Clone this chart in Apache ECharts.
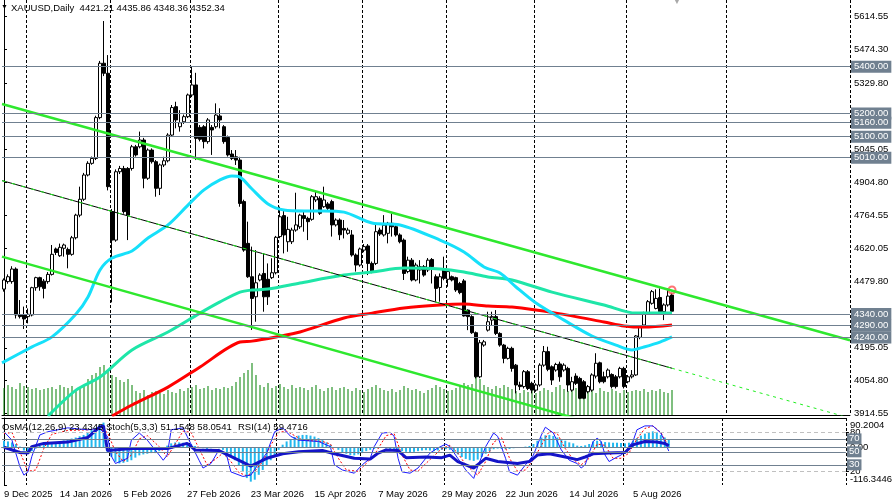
<!DOCTYPE html>
<html>
<head>
<meta charset="utf-8">
<title>XAUUSD Daily</title>
<script src="https://cdn.jsdelivr.net/npm/echarts@6/dist/echarts.min.js"></script>
<style>
  html, body { margin: 0; padding: 0; background: #fff; }
  #chart { width: 895px; height: 501px; }
</style>
</head>
<body>
<div id="chart"></div>
<script>
// daily bars, MT4 order: [open, high, low, close]
var bars = [
  [4447,4493,4436,4486],[4479,4510,4470,4500],[4479,4545,4470,4533],[4533,4540,4321,4336],
  [4336,4400,4321,4329],[4336,4372,4276,4319],[4329,4364,4300,4339],[4336,4457,4330,4453],
  [4453,4500,4440,4496],[4496,4500,4440,4457],[4481,4490,4407,4450],[4479,4520,4470,4510],
  [4510,4636,4505,4596],[4619,4625,4593,4604],[4590,4642,4585,4626],[4622,4642,4586,4636],
  [4617,4625,4536,4596],[4596,4675,4590,4667],[4667,4770,4660,4764],[4764,4886,4755,4832],
  [4832,4945,4825,4936],[4936,4995,4930,4986],[4986,5015,4980,5007],[5007,5190,5000,5182],
  [5182,5425,5175,5415],[5415,5596,5360,5372],[5372,5450,4870,4886],[4779,4790,4390,4657],
  [4657,4960,4650,4950],[4950,4975,4940,4964],[4964,4975,4770,4779],[4964,4970,4657,4764],
  [4964,5065,4955,5057],[5057,5065,5015,5022],[5057,5122,5050,5086],[5086,5095,4879,4922],
  [4922,5050,4915,5043],[5043,5050,4985,4993],[4993,5000,4843,4879],[4879,4985,4850,4979],
  [4979,5014,4970,4997],[4997,5115,4990,5107],[5107,5236,5100,5225],[5229,5250,5136,5172],
  [5143,5214,5122,5160],[5164,5195,5155,5186],[5186,5285,5180,5279],[5279,5400,5270,5322],
  [5322,5374,5000,5093],[5140,5150,5080,5089],[5143,5150,5050,5079],[5079,5180,5070,5172],
  [5140,5150,5022,5129],[5143,5243,5135,5193],[5189,5222,5136,5172],[5143,5150,5070,5079],
  [5097,5105,5015,5022],[5026,5043,5000,5007],[5014,5043,4979,5000],[5000,5014,4800,4814],
  [4822,4830,4607,4614],[4643,4736,4495,4500],[4500,4629,4272,4407],[4414,4614,4307,4474],
  [4486,4515,4480,4507],[4514,4600,4350,4414],[4489,4557,4379,4414],[4496,4579,4490,4517],
  [4517,4675,4510,4669],[4672,4800,4665,4757],[4762,4786,4600,4679],[4650,4757,4607,4703],
  [4650,4710,4640,4700],[4700,4860,4693,4722],[4714,4770,4705,4764],[4762,4786,4693,4750],
  [4750,4757,4657,4736],[4746,4850,4740,4843],[4829,4865,4820,4843],[4836,4845,4765,4772],
  [4800,4886,4795,4829],[4812,4820,4785,4793],[4822,4830,4672,4722],[4722,4750,4715,4743],
  [4743,4750,4657,4680],[4707,4743,4664,4700],[4686,4710,4680,4700],[4679,4700,4586,4593],
  [4593,4600,4522,4550],[4550,4625,4543,4619],[4614,4640,4605,4629],[4632,4640,4507,4557],
  [4557,4565,4515,4522],[4557,4729,4550,4693],[4700,4710,4675,4683],[4679,4764,4672,4721],
  [4686,4735,4643,4729],[4729,4771,4672,4714],[4714,4720,4672,4679],[4679,4686,4643,4650],
  [4657,4664,4486,4514],[4522,4586,4515,4571],[4571,4580,4480,4486],[4486,4560,4480,4550],
  [4529,4571,4471,4543],[4543,4550,4500,4507],[4529,4580,4520,4571],[4574,4580,4471,4543],
  [4500,4510,4393,4450],[4454,4514,4393,4500],[4532,4586,4485,4493],[4489,4530,4457,4522],
  [4500,4505,4480,4486],[4496,4500,4435,4443],[4471,4478,4425,4432],[4482,4490,4329,4332],
  [4357,4360,4271,4329],[4329,4335,4255,4260],[4260,4265,4064,4071],[4071,4229,4065,4217],
  [4207,4229,4200,4221],[4271,4350,4265,4307],[4314,4350,4293,4329],[4329,4357,4250,4257],
  [4257,4262,4200,4207],[4207,4212,4129,4150],[4150,4200,4145,4193],[4193,4200,4093,4107],
  [4121,4126,4000,4036],[4036,4050,4014,4029],[4029,4100,4021,4093],[4093,4100,4014,4021],
  [4043,4050,4000,4014],[4014,4043,4007,4036],[4036,4129,4029,4121],[4121,4203,4114,4179],
  [4179,4200,4095,4103],[4114,4120,4036,4057],[4100,4131,4093,4124],[4126,4136,4050,4071],
  [4100,4129,4093,4121],[4107,4114,4007,4036],[4014,4071,4007,4050],[4074,4086,4036,4043],
  [4064,4071,3975,3979],[4050,4057,3975,3979],[4007,4036,4000,4029],[4014,4086,4007,4079],
  [4074,4172,4064,4129],[4131,4136,4043,4050],[4071,4093,4043,4050],[4071,4107,4064,4100],
  [4081,4086,4021,4029],[4071,4079,4021,4029],[4071,4114,4064,4107],[4107,4114,4021,4029],
  [4050,4079,4043,4071],[4071,4100,4064,4079],[4079,4250,4075,4246],[4240,4290,4232,4286],
  [4293,4350,4286,4343],[4343,4400,4336,4393],[4386,4443,4380,4436],[4364,4446,4360,4407],
  [4411,4450,4343,4350],[4350,4386,4314,4379],[4379,4450,4372,4417],[4421.21,4435.86,4348.36,4352.34]
];

// tick volume, thousands
var volumes = [
  27,30,28,26,32,29,28,26,27,25,26, 27,28,26,30,28,27,29,26,28,30, 36,40,42,48,50,45,40,
  38,35,33,36,30, 24,22,25,20,23,24,22,21,25,23,22,26,24,27, 28,30,26,27,29,25,27,26,28,27,29,
  33,38,42,45,52,40, 30,28,32,27,29,31,28,26,30,27,28, 27,25,28,30,26,24,27,28,25,27,
  28,26,24,27,25,23,26,28,30,27,25,24,26,23,25,29, 27,25,26,24,22,25,27,30,28,26,24,25,27,29,32,30,31,
  40,36,30,28,26,29,27,30,28,26, 24,22,25,23,26,22,24,27,25,23,28,30,26,
  24,25,27,23,26,24,25,22,27,24,23,26,24,22,25,23,24, 25,24,26,23,25,24,26,23,22,25
];

var osma = [
  20,18,15,10,2,-10,-18,-12,-4,4,8,12,
  14,16,18,21,25,27,30,34,38,44,53,60,69,76,
  -14,-30,-45,-50,-48,-45,-40,-32,-25,-22,-20,-18,-18,-12,-5,
  5,12,15,15,14,12,10,4,0,-3,-5,-3,-2,-3,
  -8,-15,-25,-40,-55,-75,-95,-106,-100,-85,-70,-55,-40,-25,-8,
  8,18,25,32,36,38,38,36,33,28,22,15,8,0,
  -8,-15,-20,-24,-25,-22,-18,-12,-8,-5,-3,-2,-4,-6,-8,-10,
  -12,-14,-15,-14,-12,-10,-9,-10,-12,-10,-8,-6,-8,
  -15,-22,-30,-36,-40,-42,-38,-30,-20,-12,-6,-4,-5,-6,-5,-3,-2,
  0,2,4,10,20,30,37,38,35,30,25,20,15,12,
  5,4,6,10,18,20,18,16,15,14,14,13,
  12,14,20,28,36,42,47,49,46,38,30,23.4345
];

// [bar index, value]
var stochMain = [
  [0,81],[2,68],[4,27],[5,14],[6,19],[7,43],[9,76],[11,81],[16,87],[21,84],[24,86],[26,74],[27,43],
  [28,32],[31,40],[32,68],[34,79],[36,68],[39,45],[40,37],[41,45],[42,84],[45,87],[46,74],[49,37],
  [50,25],[52,32],[54,53],[56,43],[57,19],[60,12],[62,14],[64,32],[66,48],[68,81],[70,87],[72,74],
  [74,68],[79,66],[82,58],[83,30],[85,22],[88,17],[90,30],[92,40],[93,58],[95,79],[97,80],[98,74],
  [99,40],[100,19],[102,17],[104,25],[107,48],[109,56],[111,62],[112,58],[114,40],[116,22],[118,9],
  [119,27],[121,58],[123,79],[124,74],[126,40],[127,19],[129,14],[131,30],[133,45],[135,76],[136,88],
  [138,79],[140,53],[142,37],[144,32],[145,25],[146,30],[148,66],[149,71],[150,66],[151,45],[152,35],
  [154,42],[155,45],[156,50],[158,66],[159,84],[161,90],[163,90],[165,79],[166,66],[167,51.1548]
];
var stochSignal = [
  [0,78],[2,80],[4,50],[6,20],[8,22],[10,55],[12,77],[16,83],[21,84],[24,85],[26,80],[28,50],[30,35],
  [32,45],[34,70],[36,75],[39,58],[41,42],[43,62],[45,82],[47,80],[49,55],[51,30],[53,38],[55,48],
  [57,35],[59,18],[61,13],[63,20],[65,35],[67,60],[69,80],[71,82],[73,75],[75,68],[80,66],[82,62],
  [84,40],[86,22],[89,20],[91,32],[93,45],[96,75],[98,78],[100,45],[102,22],[104,20],[107,38],[110,55],
  [112,60],[114,48],[116,30],[119,14],[121,35],[123,65],[125,72],[127,40],[129,20],[131,22],[133,38],
  [135,60],[137,82],[139,78],[141,55],[143,38],[145,30],[147,40],[149,62],[151,60],[153,40],[155,40],
  [157,48],[159,70],[161,86],[163,90],[165,80],[167,58.0541]
];
var rsi = [
  [0,57],[4,49],[6,48],[7,58],[10,63],[16,65],[21,72],[24,88],[25,90],[26,52],[32,55],[41,55],[46,63],
  [48,53],[54,52],[57,43],[62,28],[66,40],[70,47],[74,50],[80,52],[83,47],[88,40],[92,39],[94,48],
  [96,53],[99,52],[101,41],[106,42],[110,41],[112,45],[114,35],[118,25],[121,40],[124,35],[129,32],
  [132,35],[134,45],[137,47],[141,42],[144,38],[146,42],[148,47],[152,48],[156,49],[158,61],[161,66],
  [164,65],[166,63],[167,59.4716]
];

var maFast = [
  [-0.5,4131],[7,4199],[12,4242],[18,4340],[21,4413],[24,4529],[27,4580],[32,4610],[36,4666],
  [41,4722],[46,4807],[50,4872],[54,4915],[57,4932],[59,4927],[62,4876],[66,4812],[70,4786],
  [75,4782],[80,4782],[85,4777],[92,4730],[99,4722],[109,4657],[115,4606],[120,4542],[124,4516],
  [128,4456],[133,4387],[140,4314],[147,4246],[153,4207],[157,4186],[160,4199],[164,4220],[167,4242]
];
var maMid = [
  [11,3903],[18,4014],[24,4070],[32,4186],[41,4263],[49,4344],[54,4392],[59,4434],[62,4443],
  [66,4447],[74,4473],[85,4507],[92,4520],[100,4537],[109,4533],[115,4520],[121,4499],[127,4486],
  [137,4434],[150,4379],[158,4344],[167,4344]
];
var maSlow = [
  [27,3903],[32,3950],[41,4027],[49,4113],[59,4220],[62,4224],[68,4242],[74,4263],[85,4323],
  [92,4344],[100,4366],[109,4379],[115,4383],[121,4374],[127,4370],[138,4344],[150,4306],
  [155,4289],[160,4284],[167,4293]
];

// channel trend lines, [bar index, price]
var trendUpper = [[-0.5,5240.2],[211.5,4227.8]];
var trendLower = [[-0.5,4586.1],[211.5,3561.3]];
var trendMid = [[-0.5,4911.9],[167,4107.7]];
var trendMidRay = [[167,4107.7],[211.5,3894.3]];
var alertPoint = [[167,4443]];

var levels = [5400, 5200, 5160, 5100, 5010, 4340, 4290, 4240];
var priceTicks = [5614.55, 5474.30, 5329.80, 5045.05, 4904.80, 4764.55, 4620.05, 4479.80, 4195.05, 4054.80, 3914.55];
var oscLevels = [70, 50, 30];
var stochLevels = [80, 20];
var osmaTicks = [90.2004, 0, -116.3446];

var xTickIdx = [0, 14, 30, 46, 62, 78, 94, 110, 126, 142, 158];
var xTickText = ['9 Dec 2025', '14 Jan 2026', '5 Feb 2026', '27 Feb 2026', '23 Mar 2026', '15 Apr 2026',
  '7 May 2026', '29 May 2026', '22 Jun 2026', '14 Jul 2026', '5 Aug 2026'];
var gridIdx = [6, 27, 47, 69, 90, 111, 133, 156, 181];

// trading days for the axis (weekends and a few holidays skipped)
var holidays = ['2025-12-25', '2026-01-01', '2026-04-03'];
var dates = [];
var d = new Date(Date.UTC(2025, 11, 23));
while (dates.length < 212) {
  var s = d.toISOString().slice(0, 10);
  var wd = d.getUTCDay();
  if (wd !== 0 && wd !== 6 && holidays.indexOf(s) < 0) dates.push(s.replace(/-/g, '.'));
  d.setUTCDate(d.getUTCDate() + 1);
}

var FONT = '"Liberation Sans", Arial, sans-serif';
var FS = 9.5;
var last = bars[bars.length - 1];
var bid = last[3];

var myChart = echarts.init(document.getElementById('chart'));

var gridLine = {
  show: true,
  interval: function (i) { return gridIdx.indexOf(i) >= 0; },
  lineStyle: { color: '#000', width: 1, type: [3, 2] }
};

function txt(extra) {
  var t = { fontFamily: FONT, fontSize: FS, color: '#000', fontWeight: 'normal' };
  for (var k in extra) t[k] = extra[k];
  return t;
}

function levelLabel(bg) {
  return {
    show: true, position: 'end', distance: 1,
    backgroundColor: bg, color: '#fff', padding: [1, 3, 1, 3],
    fontFamily: FONT, fontSize: FS,
    formatter: function (p) { return p.value.toFixed(2); }
  };
}

myChart.setOption({
  animation: false,
  backgroundColor: '#fff',
  textStyle: { fontFamily: FONT, fontSize: FS, color: '#000' },
  title: [
    { text: '\u25BC', left: 1, top: 4, padding: 0, textStyle: txt({ fontSize: 7 }) },
    { text: 'XAUUSD,Daily  ' + last.map(function (v) { return v.toFixed(2); }).join(' '),
      left: 11, top: 3, padding: 0, textStyle: txt({}) },
    { text: '\u25BC', left: 673, top: -2, padding: 0, textStyle: txt({ fontSize: 8, color: '#a8a8a8' }) },
    { text: 'OsMA(12,26,9) ' + osma[osma.length - 1].toFixed(4), left: 2, top: 422, padding: 0, textStyle: txt({}) },
    { text: 'Stoch(5,3,3) ' + stochMain[stochMain.length - 1][1].toFixed(4) + ' ' + stochSignal[stochSignal.length - 1][1].toFixed(4),
      left: 106, top: 422, padding: 0, textStyle: txt({}) },
    { text: 'RSI(14) ' + rsi[rsi.length - 1][1].toFixed(4), left: 238, top: 422, padding: 0, textStyle: txt({}) }
  ],
  grid: [
    { left: 2, right: 45, top: 0, height: 415 },
    { left: 2, right: 45, top: 418, height: 67 }
  ],
  xAxis: [
    { type: 'category', gridIndex: 0, data: dates, boundaryGap: true,
      axisLine: { lineStyle: { color: '#000' } }, axisTick: { show: false }, axisLabel: { show: false },
      splitLine: gridLine },
    { type: 'value', gridIndex: 0, min: -0.5, max: 211.5, show: false },
    { type: 'category', gridIndex: 1, data: dates, boundaryGap: true, position: 'bottom',
      axisLine: { lineStyle: { color: '#000' } }, axisTick: { show: false },
      axisLabel: {
        interval: function (i) { return xTickIdx.indexOf(i) >= 0; },
        formatter: function (v, i) { var k = xTickIdx.indexOf(i); return k >= 0 ? xTickText[k] : ''; },
        showMinLabel: true,
        align: 'left', margin: 4, color: '#000', fontFamily: FONT, fontSize: FS
      },
      splitLine: gridLine },
    { type: 'value', gridIndex: 1, min: -0.5, max: 211.5, show: false },
    { type: 'category', gridIndex: 1, data: dates, position: 'top',
      axisLine: { lineStyle: { color: '#000' } }, axisTick: { show: false }, axisLabel: { show: false } }
  ],
  yAxis: [
    { type: 'value', gridIndex: 0, position: 'right', min: 3907.3, max: 5686.1, scale: true,
      axisLine: { show: true, lineStyle: { color: '#000' } },
      axisTick: { show: true, length: 3, customValues: priceTicks, lineStyle: { color: '#000' } },
      axisLabel: { customValues: priceTicks, margin: 4, color: '#000', fontFamily: FONT, fontSize: FS,
        formatter: function (v) { return v.toFixed(2); } },
      splitLine: { show: false } },
    { type: 'value', gridIndex: 0, min: 0, max: 415, show: false },
    { type: 'value', gridIndex: 1, position: 'right', min: -116.3446, max: 90.2004,
      axisLine: { show: true, lineStyle: { color: '#000' } },
      axisTick: { show: true, length: 3, customValues: osmaTicks, lineStyle: { color: '#000' } },
      axisLabel: { customValues: osmaTicks, margin: 4, color: '#000', fontFamily: FONT, fontSize: FS,
        formatter: function (v) {
          if (v > 50) return '{top|' + v.toFixed(4) + '}';
          if (v < -50) return '{bot|' + v.toFixed(4) + '}';
          return v.toFixed(2);
        },
        rich: {
          top: { padding: [14, 0, 0, 0], fontFamily: FONT, fontSize: FS, color: '#000' },
          bot: { padding: [0, 0, 12, 0], fontFamily: FONT, fontSize: FS, color: '#000' }
        } },
      splitLine: { show: false } },
    { type: 'value', gridIndex: 1, position: 'right', min: -1.2, max: 102.2,
      axisLine: { show: false },
      axisTick: { show: true, length: 3, customValues: stochLevels, lineStyle: { color: '#000' } },
      axisLabel: { customValues: stochLevels, margin: 4, color: '#000', fontFamily: FONT, fontSize: FS },
      splitLine: { show: false } }
  ],
  series: [
    { name: 'Volume', type: 'bar', xAxisIndex: 0, yAxisIndex: 1, data: volumes, barWidth: 1,
      itemStyle: { color: '#008000' }, silent: true,
      markLine: { silent: true, symbol: ['none', 'none'],
        lineStyle: { color: '#c0c0c0', width: 1, type: 'solid' },
        label: levelLabel('#000'),
        data: [{ yAxis: bid }] } },
    { name: 'XAUUSD', type: 'candlestick', xAxisIndex: 0, yAxisIndex: 0, barWidth: 3,
      data: bars.map(function (b) { return [b[0], b[3], b[2], b[1]]; }),
      itemStyle: { color: '#fff', color0: '#000', borderColor: '#000', borderColor0: '#000', borderWidth: 1 },
      markLine: { silent: true, symbol: ['none', 'none'],
        lineStyle: { color: '#708090', width: 1, type: 'solid' },
        label: levelLabel('#708090'),
        data: levels.map(function (v) { return { yAxis: v }; }) } },
    { name: 'MA 200', type: 'line', xAxisIndex: 1, yAxisIndex: 0, data: maSlow, smooth: 0.3,
      showSymbol: false, lineStyle: { color: '#ff0000', width: 3 } },
    { name: 'MA 100', type: 'line', xAxisIndex: 1, yAxisIndex: 0, data: maMid, smooth: 0.3,
      showSymbol: false, lineStyle: { color: '#1ee6a8', width: 3 } },
    { name: 'MA 50', type: 'line', xAxisIndex: 1, yAxisIndex: 0, data: maFast, smooth: 0.3,
      showSymbol: false, lineStyle: { color: '#16e0fa', width: 3 } },
    { name: 'Channel top', type: 'line', xAxisIndex: 1, yAxisIndex: 0, data: trendUpper,
      showSymbol: false, lineStyle: { color: '#2ee82e', width: 2.5 } },
    { name: 'Channel bottom', type: 'line', xAxisIndex: 1, yAxisIndex: 0, data: trendLower,
      showSymbol: false, lineStyle: { color: '#2ee82e', width: 2.5 } },
    { name: 'Channel mid', type: 'line', xAxisIndex: 1, yAxisIndex: 0, data: trendMid,
      showSymbol: false, lineStyle: { color: '#000', width: 1 } },
    { name: 'Channel mid dash', type: 'line', xAxisIndex: 1, yAxisIndex: 0, data: trendMid,
      showSymbol: false, lineStyle: { color: '#22ee22', width: 1, type: [4, 6] } },
    { name: 'Channel ray', type: 'line', xAxisIndex: 1, yAxisIndex: 0, data: trendMidRay,
      showSymbol: false, lineStyle: { color: '#22ee22', width: 1, type: [3, 4] } },
    { name: 'Alert', type: 'scatter', xAxisIndex: 1, yAxisIndex: 0, data: alertPoint,
      symbol: 'emptyCircle', symbolSize: 7, itemStyle: { color: '#ff5050', borderColor: '#ff5050', borderWidth: 1 } },

    { name: 'OsMA', type: 'bar', xAxisIndex: 2, yAxisIndex: 2, data: osma, barWidth: 2,
      itemStyle: { color: '#22b8ee' }, silent: true,
      markLine: { silent: true, symbol: ['none', 'none'], label: { show: false },
        lineStyle: { color: '#708090', width: 1, type: 'solid' }, data: [{ yAxis: 0 }] } },
    { name: 'Stoch signal', type: 'line', xAxisIndex: 3, yAxisIndex: 3, data: stochSignal,
      showSymbol: false, lineStyle: { color: '#ff0000', width: 1, type: [2, 2] },
      markLine: { silent: true, symbol: ['none', 'none'], label: { show: false },
        lineStyle: { color: '#c0c0c0', width: 1, type: [4, 3] },
        data: stochLevels.map(function (v) { return { yAxis: v }; }) } },
    { name: 'Stoch', type: 'line', xAxisIndex: 3, yAxisIndex: 3, data: stochMain,
      showSymbol: false, lineStyle: { color: '#1a1aff', width: 1 } },
    { name: 'RSI', type: 'line', xAxisIndex: 3, yAxisIndex: 3, data: rsi,
      showSymbol: false, lineStyle: { color: '#1414c8', width: 3 },
      markLine: { silent: true, symbol: ['none', 'none'],
        lineStyle: { color: '#708090', width: 1, type: 'solid' },
        label: { show: true, position: 'end', distance: 1, backgroundColor: '#708090', color: '#fff',
          padding: [1, 2, 0, 2], fontFamily: FONT, fontSize: FS,
          formatter: function (p) { return String(p.value); } },
        data: oscLevels.map(function (v) { return { yAxis: v }; }) } }
  ]
});
</script>
</body>
</html>
